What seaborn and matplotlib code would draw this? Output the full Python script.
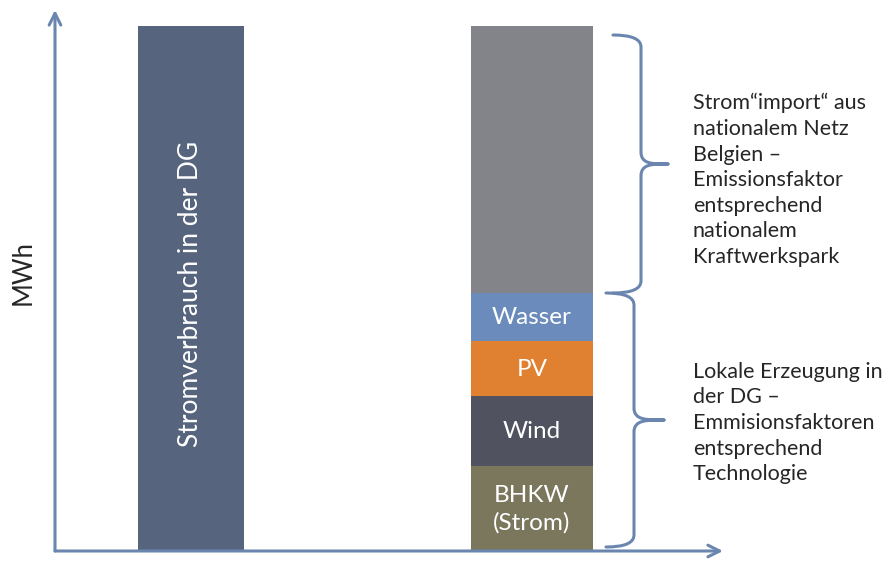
import matplotlib
matplotlib.use("Agg")
import matplotlib.pyplot as plt
import seaborn as sns
import numpy as np
import pandas as pd
from matplotlib.path import Path
from matplotlib.patches import PathPatch

# data (MWh, schematic units)
verbrauch_label = "Stromverbrauch in der DG"
verbrauch = 525
segments = ["BHKW\n(Strom)", "Wind", "PV", "Wasser", "Import"]
segment_values = [85, 70, 55, 48, 267]
segment_colors = ["#7a775d", "#50535f", "#e08132", "#6a8bbb", "#838489"]

text_import = ("Strom\u201cimport\u201c aus\nnationalem Netz\nBelgien \u2013\n"
               "Emissionsfaktor\nentsprechend\nnationalem\nKraftwerkspark")
text_lokal = ("Lokale Erzeugung in\nder DG \u2013\nEmmisionsfaktoren\n"
              "entsprechend\nTechnologie")

sns.set_theme(style="white")
plt.rcParams["font.family"] = ["Lato", "DejaVu Sans"]

axis_col = "#6b86ae"
txt_col = "#262626"

fig = plt.figure(figsize=(8.92, 5.61), dpi=100)
ax = fig.add_axes([55 / 892, 10 / 561, 668 / 892, 541 / 561])
ax.set_xlim(0, 668)
ax.set_ylim(0, 541)
ax.axis("off")

# left bar
df_left = pd.DataFrame({"x": [136], "y": [verbrauch]})
ax.bar(df_left["x"], df_left["y"], width=106, color="#56657d", lw=0, zorder=2)
ax.text(136, 257, verbrauch_label, rotation=90, color="white",
        ha="center", va="center", fontsize=19, zorder=3)

# stacked right bar
df = pd.DataFrame({"seg": segments, "val": segment_values, "col": segment_colors})
df["bottom"] = df["val"].cumsum() - df["val"]
ax.bar([477] * len(df), df["val"], bottom=df["bottom"], width=122,
       color=df["col"], lw=0, zorder=2)
for _, r in df.iterrows():
    if r["seg"] == "Import":
        continue
    ax.text(477, r["bottom"] + r["val"] / 2 - 1, r["seg"], color="white",
            ha="center", va="center", fontsize=17.5, linespacing=1.35, zorder=3)

# axes arrows
for tip in [(0, 1), (1, 0)]:
    ax.annotate("", xy=tip, xytext=(0, 0), xycoords="axes fraction",
                arrowprops=dict(arrowstyle="->,head_length=0.7,head_width=0.35",
                                color=axis_col, lw=2.2, shrinkA=0, shrinkB=0))


def brace(x, y_top, y_bot, hook, tip, r=12):
    ym = (y_top + y_bot) / 2
    verts = [
        (x - hook, y_top), (x, y_top), (x, y_top - r),
        (x, ym + r),
        (x, ym), (x + tip * 0.4, ym), (x + tip, ym),
        (x + tip * 0.4, ym), (x, ym), (x, ym - r),
        (x, y_bot + r),
        (x, y_bot), (x - hook, y_bot),
    ]
    codes = [Path.MOVETO, Path.CURVE3, Path.CURVE3,
             Path.LINETO,
             Path.CURVE4, Path.CURVE4, Path.CURVE4,
             Path.CURVE4, Path.CURVE4, Path.CURVE4,
             Path.LINETO,
             Path.CURVE3, Path.CURVE3]
    ax.add_patch(PathPatch(Path(verts, codes), fill=False, ec=axis_col,
                           lw=2.2, capstyle="round", joinstyle="round",
                           clip_on=False, zorder=3))


brace(586, 516, 258, 28, 27)
brace(579, 258, 4, 28, 30)

ax.text(638, 371, text_import, ha="left", va="center", fontsize=15.5,
        color=txt_col, linespacing=1.35)
ax.text(638, 128, text_lokal, ha="left", va="center", fontsize=15.5,
        color=txt_col, linespacing=1.35)

fig.text(23 / 892, 1 - 273 / 561, "MWh", rotation=90, ha="center",
         va="center", fontsize=18.5, color=txt_col)

fig.savefig("out.png", dpi=100)
